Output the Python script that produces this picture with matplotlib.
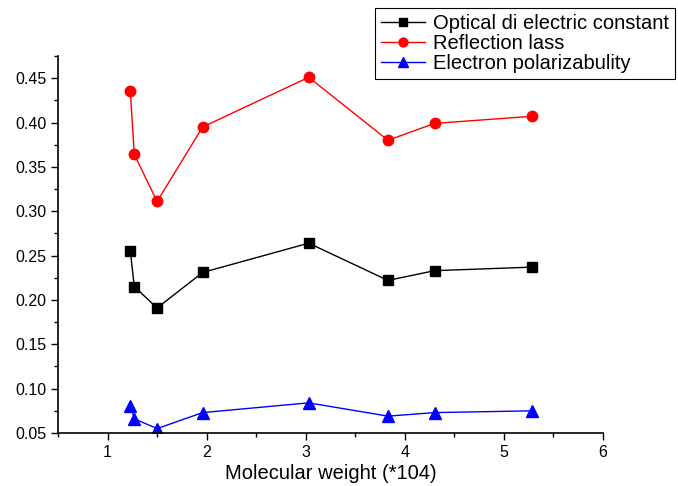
import matplotlib
matplotlib.use("Agg")
import matplotlib.pyplot as plt
from matplotlib.ticker import MultipleLocator

plt.rcParams['font.family'] = ['Liberation Sans', 'DejaVu Sans']

mol_weight = [1.23, 1.27, 1.50, 1.96, 3.03, 3.83, 4.30, 5.28]
optical_dielectric = [0.255, 0.215, 0.191, 0.231, 0.264, 0.222, 0.233, 0.237]
reflection_loss = [0.435, 0.364, 0.311, 0.395, 0.451, 0.380, 0.399, 0.407]
electron_polar = [0.081, 0.066, 0.055, 0.073, 0.084, 0.069, 0.073, 0.075]

labels = ["Optical di electric constant", "Reflection lass", "Electron polarizabulity"]

fig = plt.figure(figsize=(6.78, 4.86), dpi=100)
ax = fig.add_axes([58/678, 53/486, 545/678, (433-56)/486])

l1, = ax.plot(mol_weight, optical_dielectric, '-s', color='black', lw=1.0,
              markersize=7, label=labels[0])
l2, = ax.plot(mol_weight, reflection_loss, '-o', color='red', lw=1.0,
              markersize=7.5, label=labels[1])
l3, = ax.plot(mol_weight, electron_polar, '-^', color='blue', lw=1.0,
              markersize=8, label=labels[2])

ax.set_xlim(0.5, 6)
ax.set_ylim(0.05, 0.475)
ax.xaxis.set_major_locator(MultipleLocator(1))
ax.xaxis.set_minor_locator(MultipleLocator(0.5))
ax.yaxis.set_minor_locator(MultipleLocator(0.025))
ax.set_yticks([0.05, 0.10, 0.15, 0.20, 0.25, 0.30, 0.35, 0.40, 0.45])
ax.yaxis.set_major_formatter(matplotlib.ticker.FormatStrFormatter('%.2f'))

for s in ['top', 'right']:
    ax.spines[s].set_visible(False)
for s in ['left', 'bottom']:
    ax.spines[s].set_linewidth(1.2)

ax.tick_params(which='major', direction='out', length=5, width=1.0, labelsize=11.5)
ax.tick_params(which='minor', direction='out', length=3, width=1.0)

ax.set_xlabel("Molecular weight (*104)", fontsize=14.5, labelpad=3)

leg = fig.legend(handles=[l1, l2, l3], loc='upper right',
                 bbox_to_anchor=(675/678, 1 - 8/486), fontsize=14.5,
                 frameon=True, fancybox=False, framealpha=1,
                 edgecolor='black', borderpad=0.3, labelspacing=0.05,
                 handlelength=2.2, handletextpad=0.4, borderaxespad=0,
                 markerscale=0.85)
leg.get_frame().set_linewidth(0.8)

fig.savefig("out.png", dpi=100)
